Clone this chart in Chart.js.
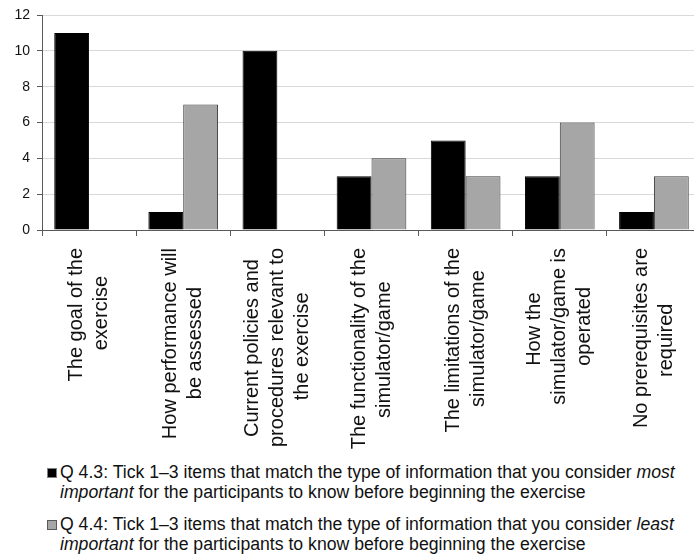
<!DOCTYPE html>
<html>
<head>
<meta charset="utf-8">
<script src="https://cdn.jsdelivr.net/npm/chart.js@4/dist/chart.umd.min.js"></script>
<style>
  html, body { margin: 0; padding: 0; background: #fff; }
  #wrap { position: relative; width: 694px; height: 554px; overflow: hidden; }
  #cw { position: absolute; left: 0; top: 0; width: 701px; height: 455px; }
  .lg { position: absolute; left: 60px; width: 640px; font-family: "Liberation Sans", Arial, sans-serif; font-size: 18px; line-height: 20px; color: #111; white-space: nowrap; transform: scaleX(0.98); transform-origin: 0 0; }
  .sq { position: absolute; left: 47px; width: 10px; height: 10px; box-sizing: border-box; }
</style>
</head>
<body>
<div id="wrap">
  <div id="cw"><canvas id="c"></canvas></div>
  <div class="sq" style="top:468px;background:#000;border:1px solid #808080;"></div>
  <div class="lg" id="lg1" style="top:462px;"></div>
  <div class="sq" style="top:520px;background:#a6a6a6;border:1px solid #595959;"></div>
  <div class="lg" id="lg2" style="top:514px;"></div>
</div>
<script>
const categories = [
  ["The goal of the", "exercise"],
  ["How performance will", "be assessed"],
  ["Current policies and", "procedures relevant to", "the exercise"],
  ["The functionality of the", "simulator/game"],
  ["The limitations of the", "simulator/game"],
  ["How the", "simulator/game is", "operated"],
  ["No prerequisites are", "required"]
];
const mostImportant = [11, 1, 10, 3, 5, 3, 1];
const leastImportant = [0, 7, 0, 4, 3, 6, 3];
const yTicks = [0, 2, 4, 6, 8, 10, 12];
const seriesNames = [
  "Q 4.3: Tick 1–3 items that match the type of information that you consider most important for the participants to know before beginning the exercise",
  "Q 4.4: Tick 1–3 items that match the type of information that you consider least important for the participants to know before beginning the exercise"
];

// HTML legend (keeps the italic words of the original)
document.getElementById('lg1').innerHTML =
  'Q 4.3: Tick 1–3 items that match the type of information that you consider <i>most</i><br><i>important</i> for the participants to know before beginning the exercise';
document.getElementById('lg2').innerHTML =
  'Q 4.4: Tick 1–3 items that match the type of information that you consider <i>least</i><br><i>important</i> for the participants to know before beginning the exercise';

const xFont = { family: '"Liberation Sans", Arial, sans-serif', size: 20, lineHeight: 1.25 };
const mctx = document.createElement('canvas').getContext('2d');
mctx.font = xFont.size + 'px ' + xFont.family;
function centerLines(lines) {
  const w = lines.map(l => mctx.measureText(l).width);
  const max = Math.max(...w);
  const sp = mctx.measureText(' ').width;
  return lines.map((l, i) => l + ' '.repeat(Math.round((max - w[i]) / 2 / sp)));
}

// Centre multi-line rotated tick labels on their category (library draws them)
const centerBlock = {
  id: 'centerBlock',
  beforeDraw(chart) {
    const s = chart.scales.x;
    s.getLabelItems().forEach(it => {
      if (it._adj) return;
      const n = Array.isArray(it.label) ? it.label.length : 1;
      it.options.translation[0] -= (n - 1) * it.font.lineHeight / 2;
      it._adj = true;
    });
  }
};

const canvas = document.getElementById('c');
canvas.width = 701; canvas.height = 455;
canvas.style.width = '701px'; canvas.style.height = '455px';

new Chart(canvas, {
  type: 'bar',
  data: {
    labels: categories,
    datasets: [
      { label: seriesNames[0], data: mostImportant, backgroundColor: '#000000', borderColor: '#000000', borderWidth: 1 },
      { label: seriesNames[1], data: leastImportant, backgroundColor: '#a6a6a6', borderColor: '#3c3c3c', borderWidth: 1 }
    ]
  },
  plugins: [centerBlock],
  options: {
    responsive: false,
    animation: false,
    devicePixelRatio: 1,
    layout: { padding: { top: 15, right: 0, left: 0, bottom: 0 } },
    plugins: { legend: { display: false }, tooltip: { enabled: false } },
    datasets: { bar: { categoryPercentage: 0.74, barPercentage: 1.0 } },
    scales: {
      x: {
        afterFit: s => { s.height = 225; s.paddingLeft = 0; s.paddingRight = 0; },
        grid: { offset: true, drawOnChartArea: false, drawTicks: true, tickLength: 6, tickColor: '#595959', tickWidth: 1 },
        border: { color: '#595959', width: 1 },
        ticks: {
          autoSkip: false, minRotation: 90, maxRotation: 90, padding: 12,
          color: '#111', font: xFont,
          callback: function (v, i) { return centerLines(categories[i]); }
        }
      },
      y: {
        min: 0, max: 12,
        afterFit: s => { s.width = 42; s.paddingTop = 0; s.paddingBottom = 0; },
        afterBuildTicks: s => { s.ticks = yTicks.map(v => ({ value: v })); },
        grid: { color: '#d9d9d9', lineWidth: 1, tickLength: 5, tickColor: '#595959' },
        border: { color: '#595959', width: 1 },
        ticks: { padding: 7, color: '#111', font: { family: '"Liberation Sans", Arial, sans-serif', size: 14 } }
      }
    }
  }
});
</script>
</body>
</html>
